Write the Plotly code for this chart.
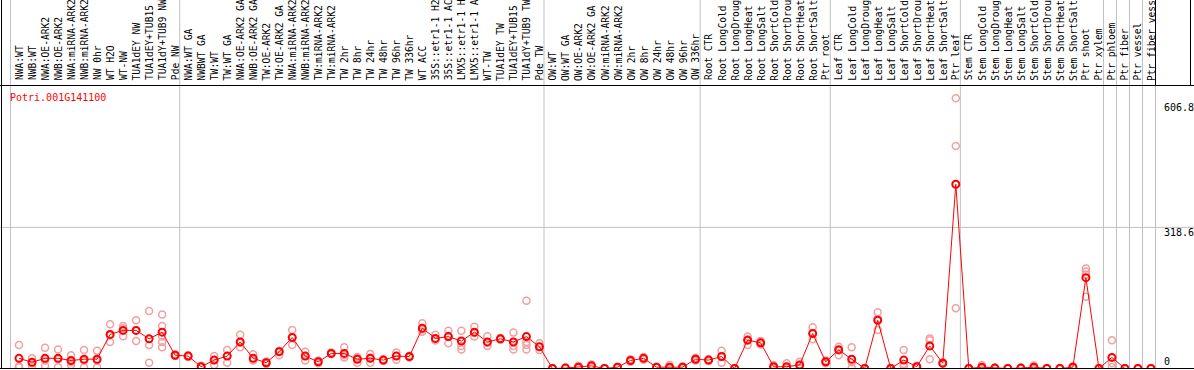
import plotly.graph_objects as go

gene = "Potri.001G141100"

# column labels as visible in the header (long names are cut at the top of the header)
labels = [
    "NWA:WT", "NWB:WT", "NWA:OE-ARK2", "NWB:OE-ARK2", "NWA:miRNA-ARK2", "NWB:miRNA-ARK2",
    "NW 0hr", "WT H2O", "WT-NW", "TUA1dEY NW", "TUA1dEY+TUB15", "TUA1dY+TUB9 NW", "Pde NW",
    "NWA:WT GA", "NWBWT GA", "TW:WT", "TW:WT GA", "NWA:OE-ARK2 GA", "NWB:OE-ARK2 GA",
    "TW:OE-ARK2", "TW:OE-ARK2 GA", "NWA:miRNA-ARK2", "NWB:miRNA-ARK2", "TW:miRNA-ARK2",
    "TW:miRNA-ARK2", "TW 2hr", "TW 8hr", "TW 24hr", "TW 48hr", "TW 96hr", "TW 336hr", "WT ACC",
    "35S::etr1-1 H2", "35S::etr1-1 AC", "LMX5::etr1-1 H", "LMX5::etr1-1 A", "WT-TW",
    "TUA1dEY TW", "TUA1dEY+TUB15", "TUA1dY+TUB9 TW", "Pde TW",
    "OW:WT", "OW:WT GA", "OW:OE-ARK2", "OW:OE-ARK2 GA", "OW:miRNA-ARK2", "OW:miRNA-ARK2",
    "OW 2hr", "OW 8hr", "OW 24hr", "OW 48hr", "OW 96hr", "OW 336hr",
    "Root CTR", "Root LongCold", "Root LongDroug", "Root LongHeat", "Root LongSalt",
    "Root ShortCold", "Root ShortDrou", "Root ShortHeat", "Root ShortSalt", "Ptr root",
    "Leaf CTR", "Leaf LongCold", "Leaf LongDroug", "Leaf LongHeat", "Leaf LongSalt",
    "Leaf ShortCold", "Leaf ShortDrou", "Leaf ShortHeat", "Leaf ShortSalt", "Ptr leaf",
    "Stem CTR", "Stem LongCold", "Stem LongDroug", "Stem LongHeat", "Stem LongSalt",
    "Stem ShortCold", "Stem ShortDrou", "Stem ShortHeat", "Stem ShortSalt", "Ptr shoot",
    "Ptr xylem", "Ptr phloem", "Ptr fiber", "Ptr vessel", "Ptr fiber vess",
]

means = [
    23, 14, 23, 23, 18, 21, 21, 77, 86, 86, 67, 82, 30,
    28, 4, 19, 28, 60, 23, 13, 38, 70, 28, 15, 34, 34, 21, 23, 19, 28, 27, 91, 68, 72, 62,
    82, 60, 67, 60, 72, 49,
    0, 1, 3, 6, 0, 3, 18, 23, 3, 3, 3, 21,
    19, 27, 0, 64, 58, 4, 4, 8, 79, 15,
    42, 21, 0, 109, 0, 19, 4, 51, 12, 416,
    0, 3, 1, 0, 1, 3, 0, 0, 3, 205, 0,
    25, 0, 0, 0,
]

replicates = [
    [53, 5, 3], [23, 12, 5], [47, 18, 6], [43, 21, 3], [30, 14, 8], [42, 18, 3], [40, 18, 3],
    [100, 75, 60], [96, 91, 73], [109, 86, 62], [130, 53, 13], [122, 96, 72, 60, 48], [32, 30, 28],
    [30, 28, 26], [6, 4, 2], [28, 19, 8], [42, 28, 13], [76, 58, 48], [32, 19, 18], [16, 13, 10],
    [40, 38, 30], [87, 70, 53], [38, 28, 18], [18, 15, 12], [36, 34, 32], [48, 30, 25],
    [26, 24, 13], [33, 24, 13], [21, 19, 17], [36, 28, 20], [29, 27, 25], [102, 88, 83],
    [76, 66, 63], [85, 74, 57], [85, 62, 51, 43], [94, 80, 72], [73, 58, 51], [69, 67, 65],
    [81, 60, 51, 43], [153, 60, 53, 43], [57, 49, 42],
    [1, 0, 0], [2, 1, 0], [6, 3, 1], [9, 6, 3], [1, 0, 0], [4, 3, 1], [21, 18, 15],
    [26, 23, 20], [4, 3, 2], [8, 2, 0], [5, 3, 1], [24, 21, 18],
    [21, 19, 17], [40, 27, 13], [1, 0, 0], [72, 66, 53], [62, 58, 54], [8, 3, 1], [12, 1, 0],
    [15, 8, 2], [93, 79, 66], [18, 15, 12],
    [49, 44, 30], [48, 14, 1], [1, 0, 0], [127, 112, 87], [1, 0, 0], [42, 10, 5], [6, 4, 2],
    [68, 64, 21], [14, 12, 10], [610, 502, 136],
    [1, 0, 0], [8, 1, 0], [2, 1, 0], [1, 0, 0], [2, 1, 0], [7, 2, 0], [1, 0, 0], [1, 0, 0],
    [5, 3, 1], [226, 219, 212, 162], [1, 0, 0],
    [64, 12, 3], [1, 0, 0], [1, 0, 0], [1, 0, 0],
]

group_ends = [-1, 12, 40, 52, 62, 72, 83, 84, 85, 86, 87]
ytick_text = ["606.8", "318.6", "0"]
grid_vals = [318.6]

W, H = 1194, 370
TOP, BOT = 85, 1
PLOT_H = H - TOP - BOT
PX_PER_IDX = 13.011
X0_PX = 19.0
Y0_PX = 368.5
PX_PER_UNIT = 0.443

xmin = -X0_PX / PX_PER_IDX
xmax = xmin + W / PX_PER_IDX
ymin = -(H - BOT - Y0_PX) / PX_PER_UNIT
ymax = (Y0_PX - TOP) / PX_PER_UNIT


def py2paper(py):
    return (H - BOT - py) / PLOT_H


x_idx = list(range(len(labels)))
rep_x, rep_y = [], []
for i, reps in enumerate(replicates):
    for v in reps:
        rep_x.append(i)
        rep_y.append(v)

fig = go.Figure()
fig.add_trace(go.Scatter(
    x=rep_x, y=rep_y, mode="markers",
    marker=dict(symbol="circle-open", size=7, color="#f0a0a0", line=dict(width=1.5, color="#f0a0a0")),
    hoverinfo="skip", showlegend=False,
))
fig.add_trace(go.Scatter(
    x=x_idx, y=means, mode="lines+markers",
    line=dict(color="#ff0000", width=1),
    marker=dict(symbol="circle-open", size=7, color="#ff0000", line=dict(width=2, color="#ff0000")),
    showlegend=False,
))

shapes = []
for g in group_ends:
    shapes.append(dict(type="line", xref="x", yref="paper", x0=g + 0.35, x1=g + 0.35,
                       y0=0, y1=py2paper(0), line=dict(color="#c0c0c0", width=1), layer="below"))
for gv in grid_vals:
    shapes.append(dict(type="line", xref="paper", yref="y", x0=0, x1=1, y0=gv, y1=gv,
                       line=dict(color="#c0c0c0", width=1), layer="below"))
shapes.append(dict(type="line", xref="paper", yref="paper", x0=0, x1=1,
                   y0=py2paper(85.5), y1=py2paper(85.5), line=dict(color="black", width=1)))
shapes.append(dict(type="line", xref="paper", yref="paper", x0=0, x1=1,
                   y0=py2paper(368.5), y1=py2paper(368.5), line=dict(color="black", width=1)))
shapes.append(dict(type="line", xref="paper", yref="paper", x0=1.5 / W, x1=1.5 / W,
                   y0=0, y1=py2paper(0), line=dict(color="black", width=1)))
last_sep = group_ends[-1] + 0.35
shapes.append(dict(type="line", xref="x", yref="paper", x0=last_sep, x1=last_sep,
                   y0=py2paper(85.5), y1=py2paper(0), line=dict(color="black", width=1)))
shapes.append(dict(type="line", xref="paper", yref="paper", x0=1190.5 / W, x1=1190.5 / W,
                   y0=py2paper(85.5), y1=py2paper(0), line=dict(color="black", width=1)))

MONO = "DejaVu Sans Mono"
annotations = []
for i, lab in enumerate(labels):
    annotations.append(dict(
        x=i, y=py2paper(81.5), xref="x", yref="paper", text=lab, textangle=-90,
        xanchor="center", yanchor="bottom", showarrow=False,
        font=dict(family=MONO, size=9.6, color="black"), borderpad=0,
    ))
annotations.append(dict(
    x=9 / W, y=py2paper(97), xref="paper", yref="paper", text=gene,
    xanchor="left", yanchor="middle", showarrow=False,
    font=dict(family=MONO, size=10, color="#ff0000"), borderpad=0,
))
label_py = [107.5, 232, 361.5]
for t, py in zip(ytick_text, label_py):
    annotations.append(dict(
        x=1163 / W, y=py2paper(py), xref="paper", yref="paper", text=t,
        xanchor="left", yanchor="middle", showarrow=False,
        font=dict(family=MONO, size=10, color="black"), borderpad=0,
    ))

fig.update_layout(
    width=W, height=H,
    margin=dict(l=0, r=0, t=TOP, b=BOT, pad=0),
    paper_bgcolor="white", plot_bgcolor="white",
    xaxis=dict(range=[xmin, xmax], showgrid=False, zeroline=False, showticklabels=False,
               ticks="", showline=False, fixedrange=True),
    yaxis=dict(range=[ymin, ymax], showgrid=False, zeroline=False, showticklabels=False,
               ticks="", showline=False, fixedrange=True),
    shapes=shapes, annotations=annotations,
    showlegend=False, hovermode=False,
)

fig.write_html(
    "out.html",
    config={"displayModeBar": False, "staticPlot": True},
    post_script="document.body.style.margin='0';document.body.style.overflow='hidden';",
)
